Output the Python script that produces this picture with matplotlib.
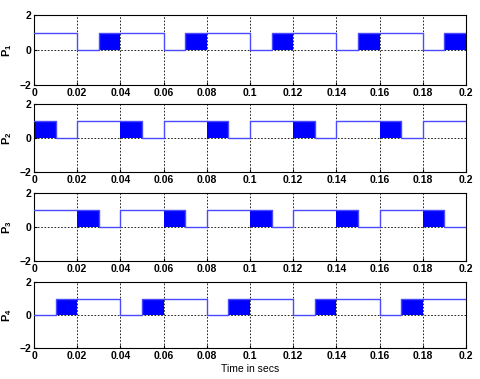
import numpy as np
import matplotlib.pyplot as plt

plt.rcParams['font.family'] = ['Liberation Sans', 'DejaVu Sans']
plt.rcParams['mathtext.fontset'] = 'custom'
plt.rcParams['mathtext.bf'] = 'Liberation Sans:bold'
plt.rcParams['mathtext.rm'] = 'Liberation Sans'
plt.rcParams['mathtext.it'] = 'Liberation Sans:italic'

# state for every 0.01 s slot: 1 = high, 0 = low, 2 = fast switching (filled block)
slot_edges = [0.00, 0.01, 0.02, 0.03, 0.04, 0.05, 0.06, 0.07, 0.08, 0.09, 0.10,
              0.11, 0.12, 0.13, 0.14, 0.15, 0.16, 0.17, 0.18, 0.19, 0.20]
p1 = [1, 1, 0, 2, 1, 1, 0, 2, 1, 1, 0, 2, 1, 1, 0, 2, 1, 1, 0, 2]
p2 = [2, 0, 1, 1, 2, 0, 1, 1, 2, 0, 1, 1, 2, 0, 1, 1, 2, 0, 1, 1]
p3 = [1, 1, 2, 0, 1, 1, 2, 0, 1, 1, 2, 0, 1, 1, 2, 0, 1, 1, 2, 0]
p4 = [0, 2, 1, 1, 0, 2, 1, 1, 0, 2, 1, 1, 0, 2, 1, 1, 0, 2, 1, 1]
series = [p1, p2, p3, p4]
labels = ['1', '2', '3', '4']
xticks = [0, 0.02, 0.04, 0.06, 0.08, 0.1, 0.12, 0.14, 0.16, 0.18, 0.2]
xticklabels = ['0', '0.02', '0.04', '0.06', '0.08', '0.1', '0.12', '0.14', '0.16', '0.18', '0.2']
yticks = [-2, 0, 2]

W, H = 480, 379
fig = plt.figure(figsize=(W / 100, H / 100), dpi=100)

# axes boxes in pixels: (top, bottom)
boxes = [(15, 85), (104, 172), (193, 261), (282, 348)]
left, right = 34, 466

t = np.array(slot_edges)
for k, (s, (top, bot)) in enumerate(zip(series, boxes)):
    ax = fig.add_axes([left / W, 1 - bot / H, (right - left) / W, (bot - top) / H])
    s = np.array(s)
    level = np.where(s == 0, 0, 1)
    ax.plot(t, np.append(level, level[-1]), drawstyle='steps-post',
            color='#4a4aff', lw=1.0, zorder=3)
    starts = t[:-1][s == 2]
    ax.bar(starts, 1, width=0.01, align='edge', color='#0000ff', lw=0, zorder=2)
    ax.set_xlim(0, 0.2)
    ax.set_ylim(-2, 2)
    ax.set_xticks(xticks)
    ax.set_xticklabels(xticklabels)
    ax.set_yticks(yticks)
    ax.tick_params(labelsize=7.5, length=2, direction='in', pad=2)
    for lab in ax.get_xticklabels() + ax.get_yticklabels():
        lab.set_fontweight('bold')
    ax.grid(True, color='black', linestyle=(0, (2, 2)), lw=0.6)
    ax.set_ylabel(r'$\mathbf{P_{%s}}$' % labels[k], fontsize=8, labelpad=4)
    for sp in ax.spines.values():
        sp.set_linewidth(0.8)

ax.set_xlabel('Time in secs', fontsize=7.5, labelpad=2)

fig.savefig('out.png', dpi=100)
